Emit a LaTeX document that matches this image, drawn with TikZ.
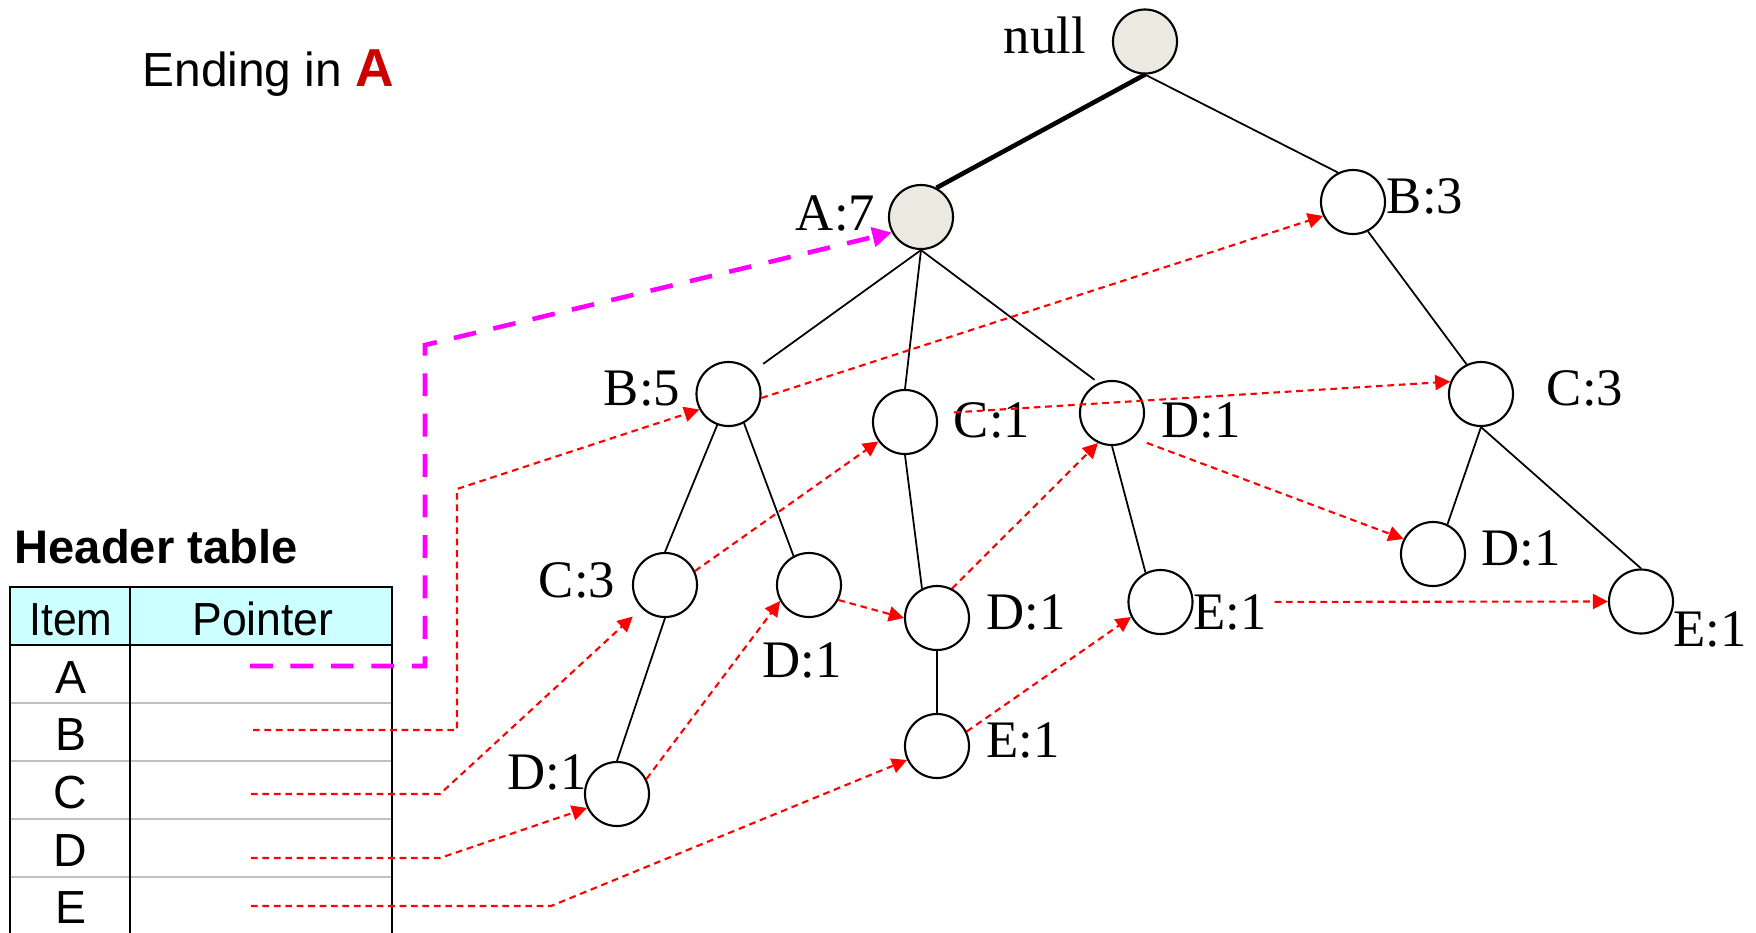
\documentclass[tikz,border=0pt]{standalone}
\usepackage{fontspec}
\setmainfont{Liberation Serif}
\newfontfamily\arialf{Liberation Sans}
\usetikzlibrary{arrows.meta}
\definecolor{nodegray}{RGB}{236,233,224}
\definecolor{hdrcyan}{RGB}{204,255,255}
\definecolor{darkredA}{RGB}{204,0,0}
\definecolor{magentaL}{RGB}{255,0,255}
\definecolor{rowgray}{RGB}{192,192,192}
\tikzset{
  tn/.style={circle, draw, line width=0.6pt, minimum size=0.64cm, inner sep=0pt},
  tng/.style={tn, fill=nodegray},
  lbl/.style={font=\fontsize{15}{18}\selectfont, inner sep=0pt, anchor=base},
  sans/.style={font=\arialf\fontsize{13.2}{16}\selectfont, inner sep=0pt, anchor=base},
  tedge/.style={line width=0.5pt},
  link/.style={red, line width=0.6pt, dash pattern=on 1.9pt off 1.35pt, -{Triangle[length=4.3pt,width=4.3pt]}},
  alink/.style={magentaL, line width=1.3pt, dash pattern=on 6.5pt off 5pt, -{Triangle[length=5.5pt,width=5.5pt]}},
}
\begin{document}
\begin{tikzpicture}[x=0.01cm, y=-0.01cm]
\useasboundingbox (0,0) rectangle (1756,933);

% ---- header table ----
\fill[hdrcyan] (10,587) rectangle (392,645);
\foreach \yy in {703,761,819,877} \draw[rowgray, line width=0.5pt] (10,\yy) -- (392,\yy);
\draw[line width=0.6pt] (10,933) -- (10,587) -- (392,587) -- (392,933);
\draw[line width=0.6pt] (10,645) -- (392,645);
\draw[line width=0.6pt] (130,587) -- (130,933);
\node[sans, font=\arialf\bfseries\fontsize{13.4}{16}\selectfont, anchor=base west] (htitle) at (14,563) {Header table};
\node[sans] (hitem) at (71,635) {\scalebox{0.92}[1]{Item}};
\node[sans] (hptr) at (263,635) {\scalebox{0.96}[1]{Pointer}};
\node[sans] (rA) at (70.5,693) {A};
\node[sans] (rB) at (70.5,750) {B};
\node[sans] (rC) at (70.5,808) {C};
\node[sans] (rD) at (70.5,866) {D};
\node[sans] (rE) at (70.5,923) {E};

% ---- title ----
\node[sans, font=\arialf\fontsize{13.6}{16}\selectfont, anchor=base west] (title) at (142,86) {Ending in \textcolor{darkredA}{\bfseries\fontsize{15.2}{18}\selectfont A}};

% ---- tree nodes ----
\node[tng] (null) at (1145,41.5) {};
\node[tng] (A7) at (921,217) {};
\node[tn] (B3) at (1353,202) {};
\node[tn] (B5) at (728.5,394) {};
\node[tn] (C1) at (905,422) {};
\node[tn] (D1a) at (1112,413) {};
\node[tn] (C3R) at (1481,394) {};
\node[tn] (C3L) at (665,585) {};
\node[tn] (D1b) at (809,585) {};
\node[tn] (D1c) at (937,618) {};
\node[tn] (E1m) at (1160.5,602) {};
\node[tn] (D1r) at (1433,554) {};
\node[tn] (E1r) at (1641,601.5) {};
\node[tn] (D1bl) at (617,794) {};
\node[tn] (E1b) at (937,746) {};

% ---- labels ----
\node[lbl] (Lnull) at (1045,53) {null};
\node[lbl] (LA7) at (835.5,230) {A:7};
\node[lbl] (LB3) at (1425,213) {B:3};
\node[lbl] (LB5) at (642,405) {B:5};
\node[lbl] (LC1) at (992,437) {C:1};
\node[lbl] (LD1a) at (1201,437) {D:1};
\node[lbl] (LC3R) at (1585,405) {C:3};
\node[lbl] (LC3L) at (577,597) {C:3};
\node[lbl] (LD1b) at (802,677) {D:1};
\node[lbl] (LD1c) at (1026,629) {D:1};
\node[lbl] (LE1m) at (1230,629) {E:1};
\node[lbl] (LD1r) at (1521,565) {D:1};
\node[lbl] (LE1r) at (1710,646) {E:1};
\node[lbl] (LD1bl) at (547,789) {D:1};
\node[lbl] (LE1b) at (1023,757) {E:1};

% ---- tree edges ----
\draw[line width=1.3pt] (null.south) -- (A7.62);
\draw[tedge] (null.south) -- (B3.117);
\draw[tedge, shorten >=0.13cm] (A7.south) -- (B5.43);
\draw[tedge] (A7.south) -- (C1.north);
\draw[tedge, shorten >=0.05cm] (A7.south) -- (D1a.114);
\draw[tedge] (B3.-63) -- (C3R.116);
\draw[tedge] (C3R.south) -- (D1r.64);
\draw[tedge] (C3R.south) -- (E1r.north);
\draw[tedge] (B5.250) -- (C3L.north);
\draw[tedge] (B5.-62) -- (D1b.118);
\draw[tedge] (C3L.south) -- (D1bl.north);
\draw[tedge] (C1.south) -- (D1c.117);
\draw[tedge] (D1c.south) -- (E1b.north);
\draw[tedge] (D1a.south) -- (E1m.117);

% ---- header pointers ----
\coordinate (pA) at (250,666);
\coordinate (bA) at (425,345);
\coordinate (pB) at (253,730);
\coordinate (bB) at (457,489);
\coordinate (pC) at (251,794);
\coordinate (bC) at (440,794);
\coordinate (pD) at (251,858);
\coordinate (bD) at (440,858);
\coordinate (pE) at (251,906);
\coordinate (bE) at (551,906);

\draw[alink] (pA) -| (bA) -- (A7.208);
\draw[link] (pB) -| (bB) -- (B5.208);
\draw[link, shorten >=0.12cm] (pC) -- (bC) -- (C3L.225);
\draw[link] (pD) -- (bD) -- (D1bl.205);
\draw[link] (pE) -- (bE) -- (E1b.205);

% ---- node links ----
\draw[link] (B5.-7) -- (B3.205);
\draw[link] (C3L.25) -- (C1.216);
\draw[link, shorten <=0.17cm] (C1.15) -- (C3R.158);
\draw[link] (D1bl.27) -- (D1b.209);
\draw[link] (D1b.-27.5) -- (D1c.west);
\draw[link] (D1c.63) -- (D1a.245);
\draw[link, shorten <=0.14cm] (D1a.-49) -- (D1r.153);
\draw[link] (E1b.26) -- (E1m.207);
\draw[link, shorten <=0.81cm] (E1m.east) -- (E1r.west);
\end{tikzpicture}
\end{document}
